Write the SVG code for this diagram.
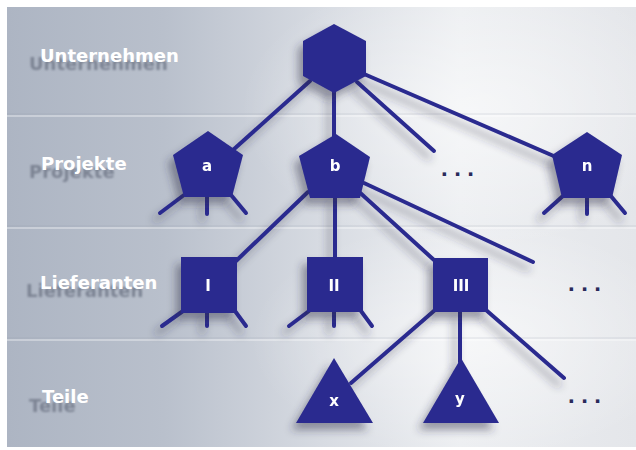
<svg xmlns="http://www.w3.org/2000/svg" width="636" height="450" viewBox="0 0 636 450">
  <defs>
    <linearGradient id="bg" x1="0" y1="0" x2="1" y2="0">
      <stop offset="0" stop-color="#adb5c3"/>
      <stop offset="0.25" stop-color="#b9c0cc"/>
      <stop offset="0.5" stop-color="#d7dbe2"/>
      <stop offset="0.72" stop-color="#eceef1"/>
      <stop offset="1" stop-color="#e4e6ea"/>
    </linearGradient>
    <radialGradient id="glow" cx="0.5" cy="0.5" r="0.5">
      <stop offset="0" stop-color="#ffffff" stop-opacity="0.55"/>
      <stop offset="1" stop-color="#ffffff" stop-opacity="0"/>
    </radialGradient>
    <filter id="drop" x="-30%" y="-30%" width="160%" height="160%">
      <feDropShadow dx="-5" dy="7" stdDeviation="4" flood-color="#2a2f45" flood-opacity="0.45"/>
    </filter>
    <filter id="soft" x="-10%" y="-50%" width="120%" height="200%">
      <feGaussianBlur stdDeviation="1.2"/>
    </filter>
    <style>
      .node { fill: #2b2b8f; }
      .edge { stroke: #2b2b8f; stroke-width: 4; stroke-linecap: round; fill: none; }
      .lbl { font-family: "DejaVu Sans", "Liberation Sans", sans-serif; font-weight: bold; font-size: 15px; fill: #ffffff; text-anchor: middle; }
      .row { font-family: "DejaVu Sans", "Liberation Sans", sans-serif; font-weight: bold; font-size: 18px; }
      .row-shadow { fill: #7c8393; }
      .row-text { fill: #ffffff; }
      .dots { font-family: "Liberation Sans", Arial, sans-serif; font-weight: bold; font-size: 24px; fill: #2a2a5a; letter-spacing: 6.5px; }
      .sep { stroke: #ffffff; stroke-opacity: 0.45; stroke-width: 1.5; }
      .sep-dark { stroke: #8f97a6; stroke-opacity: 0.25; stroke-width: 1; }
    </style>
  </defs>

  <!-- backdrop panel -->
  <rect width="636" height="450" fill="#ffffff"/>
  <rect x="7" y="7" width="629" height="440" fill="url(#bg)"/>
  <ellipse cx="470" cy="110" rx="230" ry="140" fill="url(#glow)"/>
  <ellipse cx="470" cy="340" rx="220" ry="120" fill="url(#glow)"/>

  <!-- level bands -->
  <g id="bands">
    <line class="sep-dark" x1="7" y1="114" x2="636" y2="114"/>
    <line class="sep" x1="7" y1="116" x2="636" y2="116"/>
    <line class="sep-dark" x1="7" y1="226" x2="636" y2="226"/>
    <line class="sep" x1="7" y1="228" x2="636" y2="228"/>
    <line class="sep-dark" x1="7" y1="338" x2="636" y2="338"/>
    <line class="sep" x1="7" y1="340" x2="636" y2="340"/>
  </g>

  <!-- row captions with cast shadow -->
  <g id="row-labels">
    <g filter="url(#soft)" class="row row-shadow">
      <text x="29" y="70">Unternehmen</text>
      <text x="29" y="178">Projekte</text>
      <text x="26" y="297">Lieferanten</text>
      <text x="29" y="412">Teile</text>
    </g>
    <g class="row row-text">
      <text x="40" y="62">Unternehmen</text>
      <text x="41" y="170">Projekte</text>
      <text x="40" y="289">Lieferanten</text>
      <text x="42" y="403">Teile</text>
    </g>
  </g>

  <!-- connectors -->
  <g id="connectors" class="edge" filter="url(#drop)">
    <line x1="310" y1="81" x2="233" y2="150"/>
    <line x1="334" y1="90" x2="334" y2="138"/>
    <line x1="357" y1="82" x2="434" y2="151"/>
    <line x1="364" y1="74" x2="556" y2="157"/>
    <!-- a stubs -->
    <line x1="184" y1="195" x2="160" y2="213"/>
    <line x1="207" y1="196" x2="207" y2="214"/>
    <line x1="231" y1="195" x2="246" y2="213"/>
    <!-- n stubs -->
    <line x1="564" y1="195" x2="544" y2="213"/>
    <line x1="587" y1="196" x2="587" y2="214"/>
    <line x1="610" y1="195" x2="625" y2="213"/>
    <!-- b to suppliers -->
    <line x1="308" y1="192" x2="236" y2="261"/>
    <line x1="335" y1="195" x2="335" y2="259"/>
    <line x1="357" y1="190" x2="434" y2="260"/>
    <line x1="364" y1="183" x2="533" y2="262"/>
    <!-- I stubs -->
    <line x1="183" y1="311" x2="162" y2="326"/>
    <line x1="207" y1="311" x2="207" y2="326"/>
    <line x1="235" y1="311" x2="246" y2="326"/>
    <!-- II stubs -->
    <line x1="309" y1="311" x2="289" y2="326"/>
    <line x1="334" y1="311" x2="334" y2="326"/>
    <line x1="361" y1="311" x2="372" y2="326"/>
    <!-- III to parts -->
    <line x1="435" y1="310" x2="351" y2="383"/>
    <line x1="460" y1="311" x2="460" y2="362"/>
    <line x1="486" y1="310" x2="564" y2="378"/>
  </g>

  <!-- level 0 -->
  <g id="unternehmen" filter="url(#drop)">
    <polygon class="node" points="334,24 366,41 366,76 334,93 303,76 303,41"/>
  </g>

  <!-- level 1: projects -->
  <g id="projekt-a" filter="url(#drop)">
    <polygon class="node" points="208,131 243,155 232,197 184,197 173,155"/>
    <text class="lbl" x="207" y="171">a</text>
  </g>
  <g id="projekt-b" filter="url(#drop)">
    <polygon class="node" points="336,134 370,157 360,198 310,198 299,156"/>
    <text class="lbl" x="335" y="171">b</text>
  </g>
  <g id="projekt-n" filter="url(#drop)">
    <polygon class="node" points="587,132 622,155 612,198 562,198 552,155"/>
    <text class="lbl" x="587" y="171">n</text>
  </g>
  <text class="dots" x="441" y="176">...</text>

  <!-- level 2: suppliers -->
  <g id="lieferant-1" filter="url(#drop)">
    <rect class="node" x="181" y="257" width="56" height="56"/>
    <text class="lbl" x="208" y="291">I</text>
  </g>
  <g id="lieferant-2" filter="url(#drop)">
    <rect class="node" x="307" y="257" width="56" height="55"/>
    <text class="lbl" x="334" y="291">II</text>
  </g>
  <g id="lieferant-3" filter="url(#drop)">
    <rect class="node" x="433" y="258" width="55" height="54"/>
    <text class="lbl" x="461" y="291">III</text>
  </g>
  <text class="dots" x="568" y="291">...</text>

  <!-- level 3: parts -->
  <g id="teil-x" filter="url(#drop)">
    <polygon class="node" points="334,358 373,423 296,423"/>
    <text class="lbl" x="334" y="406">x</text>
  </g>
  <g id="teil-y" filter="url(#drop)">
    <polygon class="node" points="461,358 499,423 423,423"/>
    <text class="lbl" x="460" y="404">y</text>
  </g>
  <text class="dots" x="568" y="403">...</text>
</svg>
